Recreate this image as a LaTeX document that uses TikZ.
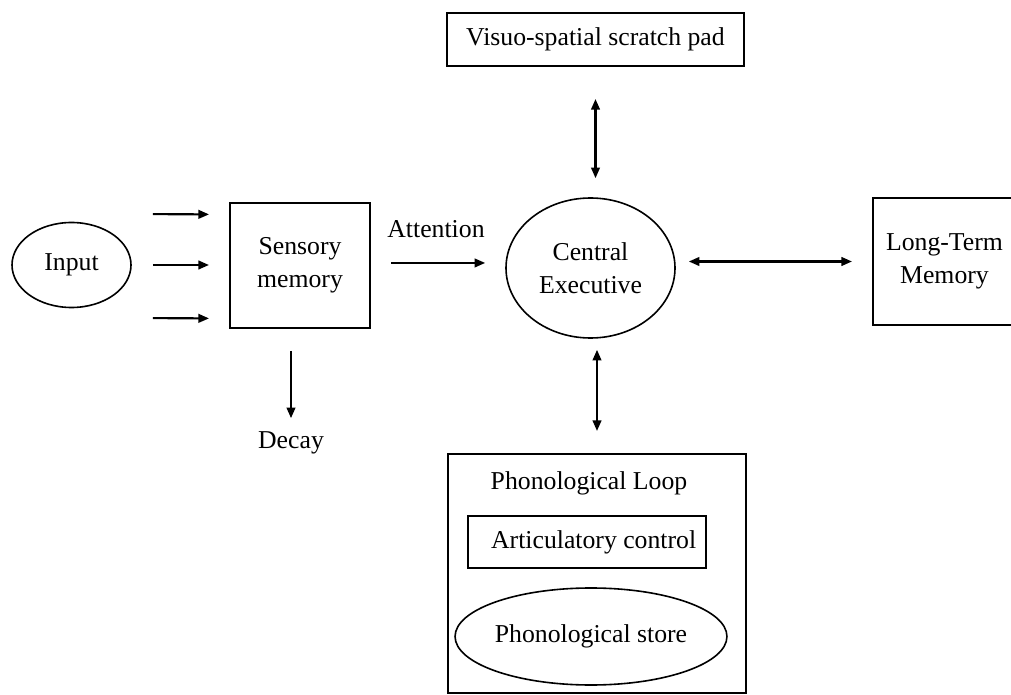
\documentclass[tikz,border=0pt]{standalone}
\usepackage{fontspec}
\setmainfont{Liberation Serif}
\usetikzlibrary{arrows.meta,shapes.geometric}

\tikzset{
  box/.style={draw, line width=1.5pt, rectangle, inner sep=0pt, align=center},
  oval/.style={draw, line width=1.2pt, ellipse, inner sep=0pt, align=center},
  lbl/.style={inner sep=0pt},
  tip/.style={Triangle[length=8pt,width=6.5pt]},
  arr/.style={line width=1.6pt, -{Triangle[length=8pt,width=6.5pt]}},
  darr/.style={line width=1.6pt, {Triangle[length=8pt,width=6.5pt]}-{Triangle[length=8pt,width=6.5pt]}}
}

\begin{document}
\begin{tikzpicture}[x=0.75pt, y=-0.75pt, font=\fontsize{19.3}{24.5}\selectfont]
\useasboundingbox (0,0) rectangle (1011,695);
\clip (0,0) rectangle (1011,695);

% input and sensory stage
\node[oval, minimum width=89.25pt, minimum height=63.75pt] (inp) at (71.5,265) {Input};
\node[box, minimum width=105pt, minimum height=93.75pt] (sens) at (300,265.5) {Sensory\\memory};
\node[lbl] (dec) at (291,443) {Decay};

% working memory core
\node[oval, minimum width=126.75pt, minimum height=105pt] (cent) at (590.5,268) {Central\\Executive};
\node[box, minimum width=107.25pt, minimum height=95.25pt] (ltm) at (944.5,261.5) {Long-Term\\Memory};
\node[box, minimum width=222.75pt, minimum height=39.75pt] (vis) at (595.5,39.5) {Visuo-spatial scratch pad};
\node[lbl, anchor=base] (att) at (436,238) {Attention};

% phonological loop with its two parts
\node[box, minimum width=223.5pt, minimum height=179.25pt] (pho) at (597,573.5) {};
\node[lbl] (phot) at (589,483) {Phonological Loop};
\node[box, minimum width=178.5pt, minimum height=39pt] (art) at (587,542) {\hspace{10pt}Articulatory control};
\node[oval, minimum width=199.5pt, minimum height=72.75pt] (sto) at (591,636.5) {Phonological store};

% input streams
\draw[arr, shorten <=15.75pt, shorten >=15pt] ([yshift=38.25pt]inp.east) -- ([yshift=38.25pt]sens.west);
\draw[arr, shorten <=15.75pt, shorten >=15pt] (inp.east) -- (inp.east -| sens.west);
\draw[arr, shorten <=15.75pt, shorten >=15pt] ([yshift=-39.75pt]inp.east) -- ([yshift=-39.75pt]sens.west);

% attention and decay
\draw[arr, shorten <=15pt, shorten >=15pt] ([yshift=1.9pt]sens.east) -- ([yshift=1.9pt]sens.east -| cent.west);
\draw[arr, shorten <=16.5pt, shorten >=10pt] (sens.south -| dec.north) -- (dec.north);

% links of the central executive
\draw[darr, shorten <=9.75pt, shorten >=15pt] (cent.east |- ltm.west) -- (ltm.west);
\draw[darr, shorten <=24pt, shorten >=14.25pt] (vis.south) -- (vis.south |- cent.north);
\draw[darr, shorten <=8.25pt, shorten >=16.5pt] (pho.north |- cent.south) -- (pho.north);
\end{tikzpicture}
\end{document}
